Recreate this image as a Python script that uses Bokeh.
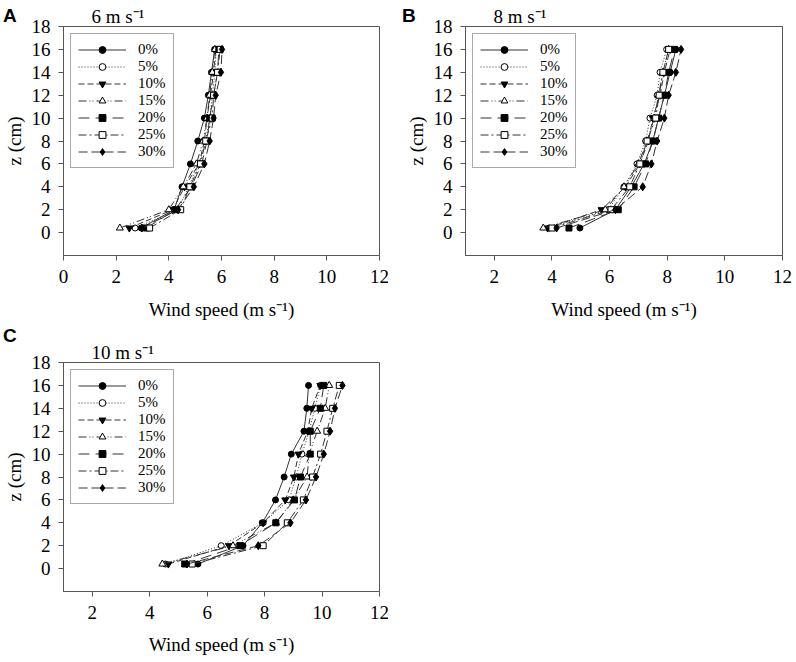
from bokeh.plotting import figure
from bokeh.layouts import column, row
from bokeh.models import Range1d, FixedTicker, Div
from bokeh.embed import file_html
from bokeh.resources import INLINE

# Heights (cm)
heights = [0.4, 2, 4, 6, 8, 10, 12, 14, 16]

# Panel A: 6 m/s
a_p0 = [2.95, 4.20, 4.50, 4.82, 5.10, 5.35, 5.50, 5.62, 5.74]
a_p5 = [2.72, 4.35, 4.75, 5.15, 5.40, 5.55, 5.65, 5.75, 5.80]
a_p10 = [2.50, 4.15, 4.60, 5.15, 5.35, 5.45, 5.58, 5.70, 5.78]
a_p15 = [2.14, 4.00, 4.55, 5.05, 5.30, 5.45, 5.55, 5.65, 5.75]
a_p20 = [3.15, 4.25, 4.85, 5.25, 5.45, 5.55, 5.70, 5.85, 5.90]
a_p25 = [3.27, 4.45, 4.80, 5.20, 5.40, 5.65, 5.70, 5.85, 5.95]
a_p30 = [2.98, 4.35, 4.95, 5.35, 5.55, 5.70, 5.78, 5.98, 6.02]

# Panel B: 8 m/s
b_p0 = [4.97, 6.20, 6.75, 7.20, 7.50, 7.70, 7.90, 8.10, 8.30]
b_p5 = [3.90, 5.95, 6.50, 6.95, 7.25, 7.40, 7.65, 7.75, 7.98]
b_p10 = [3.85, 5.72, 6.55, 7.05, 7.35, 7.50, 7.75, 7.90, 8.10]
b_p15 = [3.70, 5.85, 6.50, 7.00, 7.30, 7.55, 7.70, 7.85, 8.05]
b_p20 = [4.59, 6.30, 6.85, 7.25, 7.50, 7.70, 7.90, 8.05, 8.25]
b_p25 = [4.00, 6.05, 6.70, 7.05, 7.30, 7.60, 7.72, 7.85, 8.05]
b_p30 = [4.16, 6.20, 7.15, 7.45, 7.65, 7.90, 8.05, 8.30, 8.48]

# Panel C: 10 m/s
c_p0 = [5.68, 7.25, 7.92, 8.38, 8.68, 8.93, 9.37, 9.47, 9.53]
c_p5 = [4.55, 6.49, 7.95, 8.85, 9.10, 9.30, 9.55, 9.75, 9.95]
c_p10 = [4.65, 6.76, 7.95, 8.72, 9.02, 9.18, 9.50, 9.64, 9.94]
c_p15 = [4.44, 6.90, 8.40, 9.00, 9.48, 9.55, 9.83, 10.11, 10.25]
c_p20 = [5.22, 7.14, 8.39, 9.04, 9.25, 9.59, 9.59, 9.94, 10.06]
c_p25 = [5.48, 7.95, 8.79, 9.35, 9.67, 9.95, 10.17, 10.37, 10.60]
c_p30 = [5.30, 7.78, 8.90, 9.44, 9.79, 10.06, 10.28, 10.45, 10.71]

labels = ["0%", "5%", "10%", "15%", "20%", "25%", "30%"]
markers = ["circle", "circle", "inverted_triangle", "triangle", "square", "square", "diamond"]
fills = ["black", "white", "black", "white", "black", "white", "black"]
sizes = [6, 6, 7, 7, 6, 6, 8]
dashes = ["solid", "1 2", "6 3", "8 3 1 2 1 3", "11 6", "8 3 2 3", "9 4"]

SERIF = "Liberation Serif"


def make_panel(series, xmin, xticks, title, width, height,
               left, right, top, bottom, label_sd):
    p = figure(width=width, height=height,
               x_range=Range1d(xmin, 12), y_range=Range1d(-2, 18),
               output_backend="svg", toolbar_location=None,
               min_border_left=left, min_border_right=right,
               min_border_top=top, min_border_bottom=bottom)
    p.grid.visible = False
    p.outline_line_color = "#555555"
    p.outline_line_width = 1
    p.background_fill_color = "white"
    p.border_fill_color = "white"
    p.xaxis.ticker = FixedTicker(ticks=xticks)
    p.yaxis.ticker = FixedTicker(ticks=list(range(0, 19, 2)))
    for ax in (p.xaxis[0], p.yaxis[0]):
        ax.axis_line_color = "#555555"
        ax.major_tick_line_color = "#555555"
        ax.minor_tick_line_color = None
        ax.major_tick_in = 0
        ax.major_tick_out = 5
        ax.major_label_text_font = SERIF
        ax.major_label_text_font_size = "19px"
        ax.major_label_text_color = "black"
        ax.axis_label_text_font = SERIF
        ax.axis_label_text_font_size = "19px"
        ax.axis_label_text_font_style = "normal"
        ax.axis_label_text_color = "black"
    p.xaxis.axis_label = "Wind speed (m s\u207b\u00b9)"
    p.xaxis.major_label_standoff = 9
    p.xaxis.axis_label_standoff = label_sd
    p.yaxis.axis_label = "z (cm)"
    p.yaxis.major_label_standoff = 8
    p.yaxis.axis_label_standoff = 4

    p.title.text = title
    p.title.align = "left"
    p.title.offset = 28
    p.title.standoff = 0
    p.title.text_font = SERIF
    p.title.text_font_size = "19px"
    p.title.text_font_style = "normal"
    p.title.text_color = "black"

    for vals, lab, mk, fc, sz, dsh in zip(series, labels, markers, fills, sizes, dashes):
        p.line(vals, heights, line_color="#333333", line_width=1, line_dash=dsh,
               legend_label=lab)
        p.scatter(vals, heights, marker=mk, size=sz, fill_color=fc,
                  line_color="black", line_width=1, legend_label=lab)

    lg = p.legend[0]
    lg.location = "top_left"
    lg.margin = 7
    lg.padding = 7
    lg.spacing = 0
    lg.label_height = 17
    lg.glyph_height = 17
    lg.glyph_width = 48
    lg.label_standoff = 12
    lg.label_text_font = SERIF
    lg.label_text_font_size = "15px"
    lg.label_text_color = "black"
    lg.border_line_color = "#555555"
    lg.border_line_width = 1
    lg.background_fill_alpha = 1
    lg.label_text_baseline = "middle"
    return p


def letter(txt, left, top):
    return Div(text=txt, styles={
        "position": "absolute", "left": f"{left}px", "top": f"{top}px",
        "z-index": "10", "font-family": "Liberation Sans", "font-weight": "bold",
        "font-size": "19px", "line-height": "19px", "color": "black",
        "margin": "0", "padding": "0"})


pa = make_panel([a_p0, a_p5, a_p10, a_p15, a_p20, a_p25, a_p30], 0,
                list(range(0, 13, 2)), "6 m s\u207b\u00b9",
                402, 330, 60, 23, 26, 75, 13)
pb = make_panel([b_p0, b_p5, b_p10, b_p15, b_p20, b_p25, b_p30], 1,
                list(range(2, 13, 2)), "8 m s\u207b\u00b9",
                393, 330, 61, 13, 26, 75, 13)
pc = make_panel([c_p0, c_p5, c_p10, c_p15, c_p20, c_p25, c_p30], 1,
                list(range(2, 13, 2)), "10 m s\u207b\u00b9",
                402, 331, 60, 23, 32, 70, 12)

layout = column(row(pa, pb), pc,
                letter("A", 3, 6), letter("B", 402, 6), letter("C", 3, 326))
open("out.html", "w").write(file_html(layout, INLINE))
